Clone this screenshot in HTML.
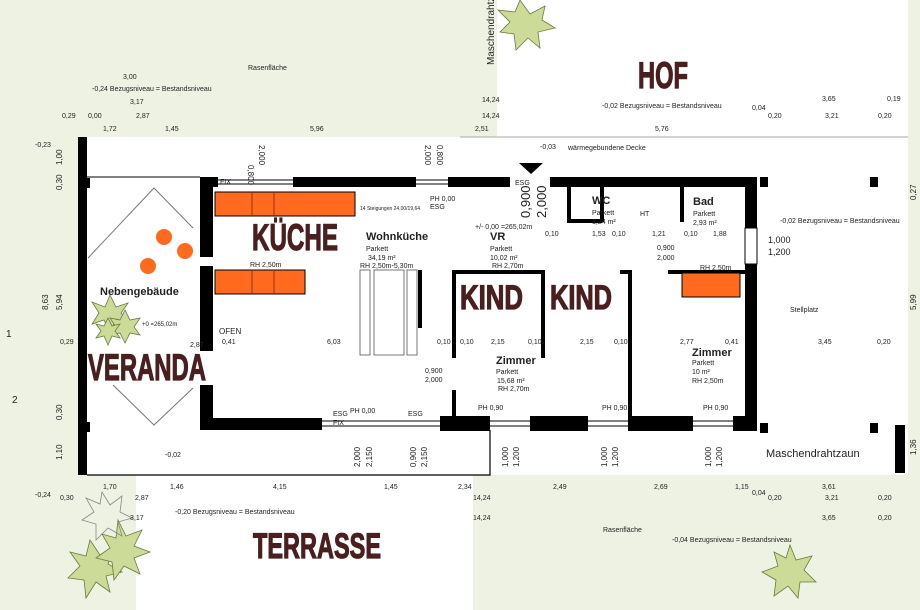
<!DOCTYPE html>
<html><head><meta charset="utf-8"><style>
body{margin:0;width:920px;height:610px;overflow:hidden;background:#eef2e3}
svg{display:block}
.t{font-family:"Liberation Sans",sans-serif;fill:#222}
.big{font-family:"Liberation Sans Narrow","Liberation Sans",sans-serif;font-weight:bold;fill:#4a1f1f;stroke:#4a1f1f;stroke-width:1.2}
</style></head><body>
<svg width="920" height="610" viewBox="0 0 920 610" xmlns="http://www.w3.org/2000/svg">
<rect width="920" height="610" fill="#eef2e3"/>
<rect x="497" y="0" width="411" height="138" fill="#fff"/>
<rect x="78" y="137" width="830" height="338" fill="#fff"/>
<rect x="136" y="475" width="337" height="135" fill="#fff"/>
<line x1="460" y1="137" x2="908" y2="137" stroke="#aaa" stroke-width="1"/>
<rect x="78" y="137" width="9" height="338" fill="#000"/>
<rect x="87" y="178" width="3" height="10" fill="#000"/>
<rect x="87" y="422" width="3" height="10" fill="#000"/>
<path d="M87 475 H490 V430" stroke="#000" stroke-width="1.2" fill="none"/>
<rect x="895" y="425" width="10" height="48" fill="#000"/>
<rect x="870" y="177" width="8" height="10" fill="#000"/>
<rect x="870" y="423" width="8" height="10" fill="#000"/>
<rect x="760" y="177" width="8" height="10" fill="#000"/>
<rect x="760" y="423" width="8" height="10" fill="#000"/>
<line x1="87" y1="177" x2="200" y2="177" stroke="#000"/>
<path d="M88 258 L154 188 L193 228" stroke="#777" fill="none"/>
<path d="M113 385 L154 425 L193 388" stroke="#777" fill="none"/>
<rect x="200" y="177" width="13" height="80" fill="#000"/>
<rect x="200" y="266" width="13" height="85" fill="#000"/>
<rect x="200" y="385" width="13" height="45" fill="#000"/>
<rect x="200" y="418" width="122" height="12" fill="#000"/>
<rect x="208" y="177" width="10" height="10" fill="#000"/>
<rect x="293" y="177" width="123" height="10" fill="#000"/>
<rect x="448" y="177" width="62" height="10" fill="#000"/>
<rect x="550" y="177" width="207" height="10" fill="#000"/>
<rect x="745" y="177" width="12" height="98" fill="#000"/>
<rect x="745" y="265" width="12" height="160" fill="#000"/>
<rect x="745" y="228" width="12" height="36" fill="#fff" stroke="#000"/>
<g stroke="#000" stroke-width="1"><line x1="213" y1="180" x2="293" y2="180"/><line x1="213" y1="184" x2="293" y2="184"/>
<line x1="322" y1="421" x2="440" y2="421"/><line x1="322" y1="426" x2="440" y2="426"/>
<line x1="490" y1="421" x2="530" y2="421"/><line x1="490" y1="426" x2="530" y2="426"/>
<line x1="588" y1="421" x2="628" y2="421"/><line x1="588" y1="426" x2="628" y2="426"/>
<line x1="693" y1="421" x2="733" y2="421"/><line x1="693" y1="426" x2="733" y2="426"/>
<line x1="416" y1="180" x2="448" y2="180"/><line x1="416" y1="184" x2="448" y2="184"/></g>
<rect x="440" y="416" width="50" height="15" fill="#000"/>
<rect x="530" y="416" width="58" height="15" fill="#000"/>
<rect x="628" y="416" width="65" height="15" fill="#000"/>
<rect x="733" y="416" width="24" height="15" fill="#000"/>
<g fill="#000">
<rect x="567" y="187" width="4" height="35"/><rect x="567" y="219" width="35" height="4"/>
<rect x="600" y="187" width="4" height="35"/><rect x="680" y="187" width="4" height="35"/>
<rect x="452" y="270" width="4" height="88"/><rect x="452" y="390" width="4" height="28"/>
<rect x="452" y="270" width="92" height="4"/><rect x="541" y="270" width="4" height="88"/>
<rect x="628" y="270" width="4" height="148"/><rect x="668" y="270" width="77" height="4"/>
<rect x="620" y="270" width="12" height="4"/>
<rect x="418" y="270" width="4" height="58"/>
<polygon points="519,163 543,163 531,174"/>
</g>
<g fill="#ff6a1f" stroke="#000" stroke-width="1">
<rect x="215" y="192" width="140" height="24"/><rect x="215" y="270" width="90" height="24"/>
<rect x="682" y="273" width="58" height="24"/></g>
<g stroke="#7a2a10" stroke-width="0.8"><line x1="252" y1="192" x2="252" y2="216"/><line x1="274" y1="192" x2="274" y2="216"/><line x1="252" y1="270" x2="252" y2="294"/><line x1="274" y1="270" x2="274" y2="294"/></g>
<circle cx="164" cy="237" r="8" fill="#ff6a1f"/><circle cx="185" cy="251" r="8" fill="#ff6a1f"/><circle cx="148" cy="266" r="8" fill="#ff6a1f"/>
<g fill="none" stroke="#555" stroke-width="0.8"><rect x="360" y="270" width="10" height="85"/><rect x="374" y="270" width="30" height="85"/><rect x="407" y="270" width="10" height="85"/></g>
<g fill="#cddb98" stroke="#6a7a40" stroke-width="0.8">
<polygon points="520,0 530,14 545,6 542,20 555,28 538,32 540,48 528,38 516,50 514,34 500,32 510,22 498,10 515,12"/>
<polygon points="110,295 116,307 128,303 121,313 128,322 116,319 110,333 104,320 92,324 99,313 92,302 105,307"/>
<polygon points="125,310 130,320 140,318 134,327 140,335 130,333 125,343 120,333 110,335 116,327 110,318 120,320"/>
<polygon points="108,318 112,326 120,324 115,331 120,338 112,336 108,345 104,336 96,338 101,331 96,324 104,326"/>
<polygon points="90,540 100,555 114,548 108,564 122,572 106,576 110,592 96,582 86,598 84,580 68,578 80,566 70,552 86,556"/>
<polygon points="118,520 126,536 142,530 134,546 150,552 134,558 140,574 124,566 114,580 112,562 96,558 110,548 102,534 116,538"/>
<polygon points="790,545 796,560 812,556 804,570 816,582 800,582 798,598 788,586 774,596 776,580 762,572 778,566 774,552 786,558"/>
</g>
<polygon fill="none" stroke="#888" stroke-width="0.8" points="102,492 110,505 122,496 120,512 132,518 118,522 122,536 108,528 96,540 96,524 82,520 94,512 86,498 100,504"/>
<text class="big" x="252" y="250" font-size="37" textLength="86" lengthAdjust="spacingAndGlyphs">KÜCHE</text>
<text class="big" x="88" y="380" font-size="37" textLength="118" lengthAdjust="spacingAndGlyphs">VERANDA</text>
<text class="big" x="460" y="309" font-size="34" textLength="63" lengthAdjust="spacingAndGlyphs">KIND</text>
<text class="big" x="550" y="309" font-size="34" textLength="62" lengthAdjust="spacingAndGlyphs">KIND</text>
<text class="big" x="638" y="88" font-size="37" textLength="50" lengthAdjust="spacingAndGlyphs">HOF</text>
<text class="big" x="253" y="558" font-size="35" textLength="128" lengthAdjust="spacingAndGlyphs">TERRASSE</text>
<g class="t" font-size="11" font-weight="bold">
<text x="366" y="240">Wohnküche</text><text x="100" y="295">Nebengebäude</text>
<text x="490" y="240">VR</text><text x="592" y="204">WC</text><text x="693" y="205">Bad</text>
<text x="496" y="364">Zimmer</text><text x="692" y="356">Zimmer</text></g>
<g class="t" font-size="7">
<text x="366" y="251">Parkett</text><text x="368" y="260">34,19 m²</text><text x="360" y="268">RH 2,50m-5,30m</text>
<text x="490" y="251">Parkett</text><text x="490" y="260">10,02 m²</text><text x="492" y="268">RH 2,70m</text>
<text x="592" y="215">Parkett</text><text x="592" y="224">1,24 m²</text>
<text x="693" y="216">Parkett</text><text x="693" y="225">2,93 m²</text>
<text x="496" y="374">Parkett</text><text x="497" y="383">15,68 m²</text><text x="498" y="391">RH 2,70m</text>
<text x="692" y="365">Parkett</text><text x="692" y="374">10 m²</text><text x="692" y="383">RH 2,50m</text>
<text x="219" y="334" font-size="8">OFEN</text><text x="250" y="267">RH 2,50m</text><text x="700" y="270">RH 2,50m</text>
<text x="360" y="210" font-size="5">14 Steigungen 24,00/19,64</text>
<text x="430" y="201">PH 0,00</text><text x="430" y="209">ESG</text><text x="515" y="185">ESG</text>
<text x="350" y="413">PH 0,00</text><text x="333" y="416">ESG</text><text x="408" y="416">ESG</text><text x="333" y="425">FIX</text><text x="220" y="184">FIX</text>
<text x="478" y="410">PH 0,90</text><text x="602" y="410">PH 0,90</text><text x="703" y="410">PH 0,90</text>
<text x="640" y="216">HT</text><text x="475" y="229">+/- 0,00 =265,02m</text>
<text x="568" y="150">wärmegebundene Decke</text><text x="540" y="149">-0,03</text>
<text x="190" y="347">2,87</text><text x="222" y="344">0,41</text><text x="327" y="344">6,03</text><text x="437" y="344">0,10</text>
<text x="460" y="344">0,10</text><text x="491" y="344">2,15</text><text x="528" y="344">0,10</text><text x="580" y="344">2,15</text><text x="614" y="344">0,10</text>
<text x="680" y="344">2,77</text><text x="725" y="344">0,41</text><text x="818" y="344">3,45</text><text x="877" y="344">0,20</text><text x="60" y="344">0,29</text>
<text x="545" y="236">0,10</text><text x="592" y="236">1,53</text><text x="612" y="236">0,10</text><text x="652" y="236">1,21</text><text x="684" y="236">0,10</text><text x="713" y="236">1,88</text>
<text x="657" y="250">0,900</text><text x="657" y="260">2,000</text><text x="425" y="373">0,900</text><text x="425" y="382">2,000</text>
<text x="780" y="223">-0,02 Bezugsniveau = Bestandsniveau</text>
<text x="790" y="312">Stellplatz</text>
<text x="248" y="70">Rasenfläche</text><text x="123" y="79">3,00</text>
<text x="92" y="91">-0,24 Bezugsniveau = Bestandsniveau</text><text x="130" y="104">3,17</text>
<text x="62" y="118">0,29</text><text x="88" y="118">0,00</text><text x="136" y="118">2,87</text>
<text x="103" y="131">1,72</text><text x="165" y="131">1,45</text><text x="310" y="131">5,96</text><text x="475" y="131">2,51</text>
<text x="482" y="102">14,24</text><text x="482" y="118">14,24</text><text x="602" y="108">-0,02 Bezugsniveau = Bestandsniveau</text>
<text x="752" y="110">0,04</text><text x="768" y="118">0,20</text><text x="825" y="118">3,21</text><text x="878" y="118">0,20</text>
<text x="822" y="101">3,65</text><text x="887" y="101">0,19</text><text x="655" y="131">5,76</text>
<text x="35" y="147">-0,23</text><text x="165" y="457">-0,02</text>
<text x="103" y="489">1,70</text><text x="170" y="489">1,46</text><text x="273" y="489">4,15</text><text x="384" y="489">1,45</text><text x="458" y="489">2,34</text>
<text x="553" y="489">2,49</text><text x="654" y="489">2,69</text><text x="735" y="489">1,15</text><text x="822" y="489">3,61</text>
<text x="35" y="497">-0,24</text><text x="60" y="500">0,30</text><text x="135" y="500">2,87</text><text x="473" y="500">14,24</text>
<text x="752" y="495">0,04</text><text x="768" y="500">0,20</text><text x="825" y="500">3,21</text><text x="878" y="500">0,20</text>
<text x="130" y="520">3,17</text><text x="175" y="514">-0,20 Bezugsniveau = Bestandsniveau</text><text x="473" y="520">14,24</text>
<text x="822" y="520">3,65</text><text x="878" y="520">0,20</text><text x="603" y="532">Rasenfläche</text>
<text x="672" y="542">-0,04 Bezugsniveau = Bestandsniveau</text>
<text x="142" y="326" font-size="6">+0 =265,02m</text>
</g>
<text class="t" x="766" y="457" font-size="11">Maschendrahtzaun</text>
<text class="t" x="768" y="243" font-size="9">1,000</text><text class="t" x="768" y="255" font-size="9">1,200</text>
<text class="t" x="6" y="337" font-size="10">1</text><text class="t" x="12" y="403" font-size="10">2</text>
<text class="t" transform="translate(494,65) rotate(-90)" font-size="10">Maschendrahtzaun</text>
<text class="t" transform="translate(530,218) rotate(-90)" font-size="13">0,900</text>
<text class="t" transform="translate(546,218) rotate(-90)" font-size="13">2,000</text>
<g class="t" font-size="8">
<text transform="translate(248,165) rotate(90)">0,800</text><text transform="translate(259,145) rotate(90)">2,000</text>
<text transform="translate(425,145) rotate(90)">2,000</text><text transform="translate(437,145) rotate(90)">0,800</text>
<text transform="translate(360,467) rotate(-90)">2,000</text><text transform="translate(372,467) rotate(-90)">2,150</text>
<text transform="translate(416,467) rotate(-90)">0,900</text><text transform="translate(427,467) rotate(-90)">2,150</text>
<text transform="translate(508,467) rotate(-90)">1,000</text><text transform="translate(519,467) rotate(-90)">1,200</text>
<text transform="translate(607,467) rotate(-90)">1,000</text><text transform="translate(618,467) rotate(-90)">1,200</text>
<text transform="translate(711,467) rotate(-90)">1,000</text><text transform="translate(722,467) rotate(-90)">1,200</text>
<text transform="translate(48,310) rotate(-90)">8,63</text><text transform="translate(62,310) rotate(-90)">5,94</text>
<text transform="translate(62,190) rotate(-90)">0,30</text><text transform="translate(62,165) rotate(-90)">1,00</text>
<text transform="translate(62,460) rotate(-90)">1,10</text><text transform="translate(62,420) rotate(-90)">0,30</text>
<text transform="translate(916,310) rotate(-90)">5,99</text><text transform="translate(916,200) rotate(-90)">0,27</text><text transform="translate(916,455) rotate(-90)">1,36</text>
</g>
</svg>
</body></html>
